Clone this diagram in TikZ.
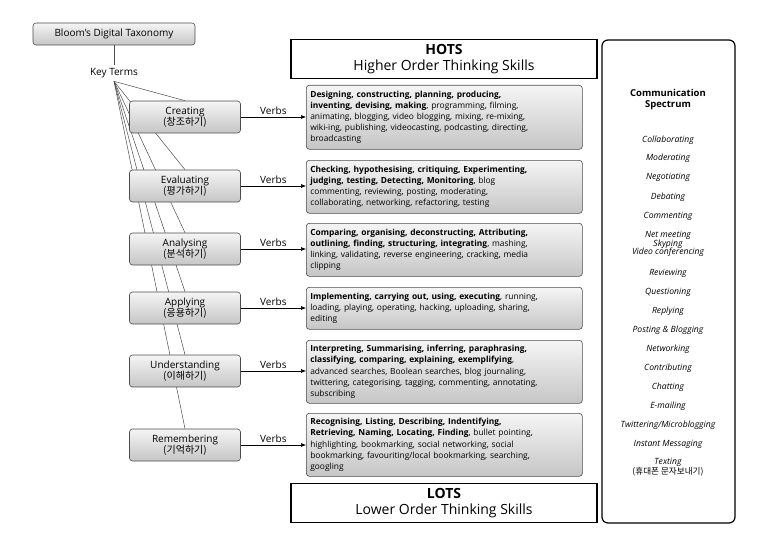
\documentclass[tikz,border=0pt]{standalone}
\usepackage{fontspec}
\setmainfont{Open Sans}
\newfontfamily\kr{Noto Sans CJK KR}
\usetikzlibrary{arrows.meta}
\pgfdeclarelayer{bg}
\pgfsetlayers{bg,main}
\begin{document}
\begin{tikzpicture}[x=1pt,y=-1pt,
 gbox/.style={draw=black!70,rounded corners=3pt,top color=gray!8,bottom color=gray!45,line width=0.6pt},
 cat/.style={gbox,minimum width=111pt,minimum height=32pt,align=center,font=\fontsize{10}{11}\selectfont,inner sep=1pt},
 verbbox/.style={gbox,minimum width=276pt,text width=268pt,align=left,font=\fontsize{8.4}{11.2}\selectfont,inner sep=3pt,anchor=north west},
 lnk/.style={draw=black!70,line width=0.5pt},
 arr/.style={draw=black,line width=0.6pt,-{Latex[length=5pt,width=4pt]}},
 vlab/.style={font=\fontsize{10}{11}\selectfont},
 big/.style={draw,line width=1.2pt,minimum width=306pt,minimum height=39pt,align=center,inner sep=0pt},
 ci/.style={font=\fontsize{8.6}{8.8}\selectfont\itshape,align=center}]
\useasboundingbox (0,0) rectangle (772,551);
\node[gbox,minimum width=162pt,minimum height=22pt,font=\fontsize{10}{11}\selectfont] (bdt) at (114,34) {Bloom’s Digital Taxonomy};
\node[font=\fontsize{10}{11}\selectfont] (kt) at (114,73) {Key Terms};
\draw[lnk] (bdt.south) -- (kt.north);
\node[cat] (c1) at (185,117) {Creating\\{\kr(창조하기)}};
\node[cat] (c2) at (185,186) {Evaluating\\{\kr(평가하기)}};
\node[cat] (c3) at (185,249) {Analysing\\{\kr(분석하기)}};
\node[cat] (c4) at (185,308) {Applying\\{\kr(응용하기)}};
\node[cat] (c5) at (185,371) {Understanding\\{\kr(이해하기)}};
\node[cat] (c6) at (185,445) {Remembering\\{\kr(기억하기)}};
\begin{pgfonlayer}{bg}
\foreach \i in {1,...,6}{\draw[lnk] (kt.south) -- (c\i.north);}
\end{pgfonlayer}
\node[big,font=\fontsize{14}{16}\selectfont] (hots) at (444,59) {\textbf{HOTS}\\Higher Order Thinking Skills};
\node[big,font=\fontsize{14}{16}\selectfont] (lots) at (444,503) {\textbf{LOTS}\\Lower Order Thinking Skills};
\node[verbbox,minimum height=64pt] (v1) at (306,85) {\textbf{Designing, constructing, planning, producing,}\\\textbf{inventing, devising, making}, programming, filming,\\animating, blogging, video blogging, mixing, re-mixing,\\wiki-ing, publishing, videocasting, podcasting, directing,\\broadcasting};
\node[verbbox,minimum height=53pt] (v2) at (306,160) {\textbf{Checking, hypothesising, critiquing, Experimenting,}\\\textbf{judging, testing, Detecting, Monitoring}, blog\\commenting, reviewing, posting, moderating,\\collaborating, networking, refactoring, testing};
\node[verbbox,minimum height=53pt] (v3) at (306,223) {\textbf{Comparing, organising, deconstructing, Attributing,}\\\textbf{outlining, finding, structuring, integrating}, mashing,\\linking, validating, reverse engineering, cracking, media\\clipping};
\node[verbbox,minimum height=42pt] (v4) at (306,287) {\textbf{Implementing, carrying out, using, executing}, running,\\loading, playing, operating, hacking, uploading, sharing,\\editing};
\node[verbbox,minimum height=63pt] (v5) at (306,340) {\textbf{Interpreting, Summarising, inferring, paraphrasing,}\\\textbf{classifying, comparing, explaining, exemplifying},\\advanced searches, Boolean searches, blog journaling,\\twittering, categorising, tagging, commenting, annotating,\\subscribing};
\node[verbbox,minimum height=63pt] (v6) at (306,413) {\textbf{Recognising, Listing, Describing, Indentifying,}\\\textbf{Retrieving, Naming, Locating, Finding}, bullet pointing,\\highlighting, bookmarking, social networking, social\\bookmarking, favouriting/local bookmarking, searching,\\googling};
\foreach \i in {1,...,6}{\draw[arr] (c\i.east) -- node[vlab,above=-1pt]{Verbs} (c\i.east -| v\i.west);}
\node[draw,line width=1.2pt,rounded corners=6pt,minimum width=133pt,minimum height=483pt] (cs) at (668.5,281.5) {};
\node[font=\fontsize{9.5}{11}\selectfont\bfseries,align=center] (cst) at (668,100) {Communication\\Spectrum};
\foreach \t/\y [count=\k] in {Collaborating/140,Moderating/158,Negotiating/177,Debating/197,Commenting/216,Reviewing/273,Questioning/292,Replying/311,Posting \& Blogging/330,Networking/349,Contributing/368,Chatting/387,E-mailing/406,{Twittering{/}Microblogging}/425,Instant Messaging/444}
  {\node[ci] (ci\k) at (668,\y) {\t};}
\node[ci] (cinet) at (668,244) {Net meeting\\Skyping\\Video conferencing};
\node[ci] (citext) at (668,467) {Texting\\{\kr(휴대폰 문자보내기)}};
\end{tikzpicture}
\end{document}
